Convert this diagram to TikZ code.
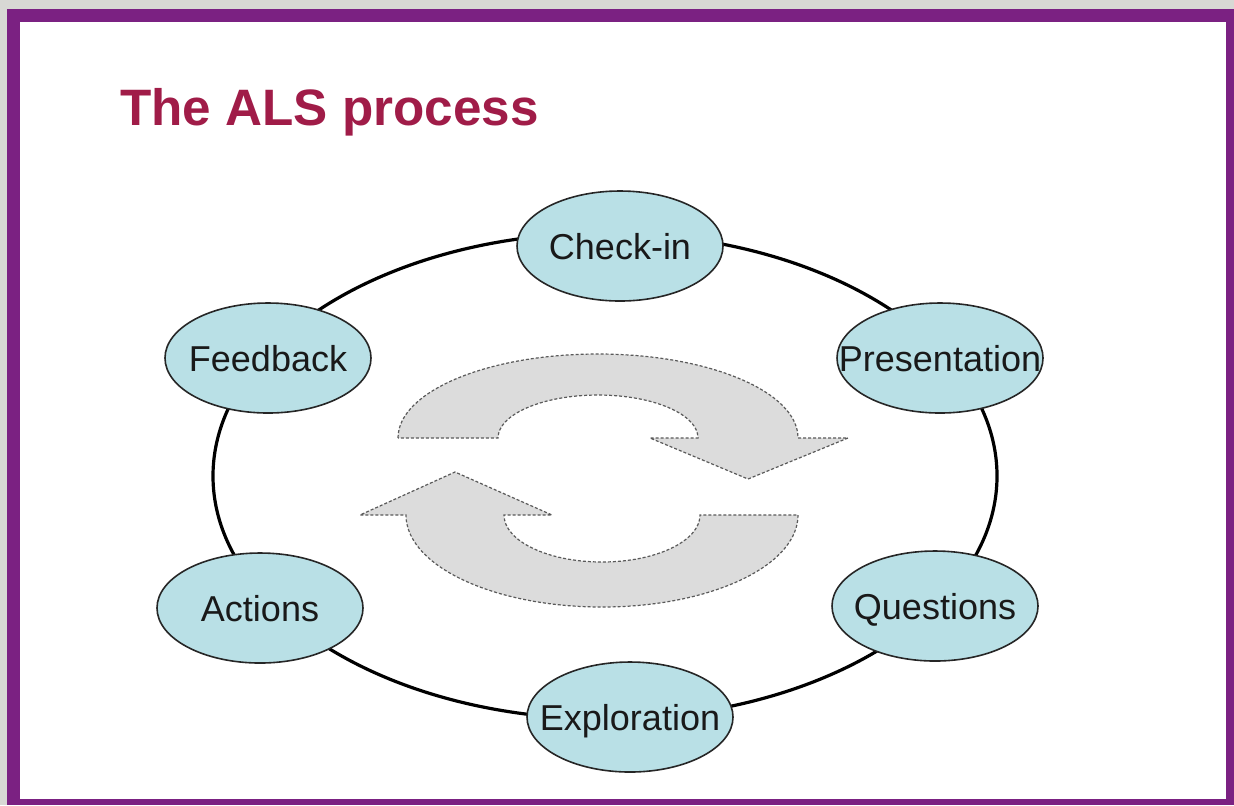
\documentclass[tikz,border=0pt]{standalone}
\usepackage{fontspec}
\setmainfont{Liberation Sans}
\usetikzlibrary{shapes.geometric}
\definecolor{framegray}{RGB}{216,216,212}
\definecolor{framepurple}{RGB}{123,33,130}
\definecolor{titlered}{RGB}{160,28,72}
\definecolor{nodeblue}{RGB}{185,224,230}
\definecolor{arrowgray}{RGB}{220,220,220}
\definecolor{dashgray}{RGB}{90,90,90}
\newcommand{\zw}[1]{\makebox[0pt][c]{#1}}
\tikzset{
  stage/.style={ellipse, draw=black!85, line width=0.8pt, fill=nodeblue,
    minimum width=103pt, minimum height=55pt, inner sep=0pt,
    text height=16pt, text depth=3pt,
    font=\fontsize{18}{20}\selectfont, text=black!90},
  ring/.style={draw=black, line width=1.6pt},
  cyclearrow/.style={fill=arrowgray, draw=dashgray, line width=0.6pt,
    dash pattern=on 1.5pt off 1pt},
  titletext/.style={anchor=base west, inner sep=0pt, text=titlered,
    font=\fontsize{25.6}{28}\selectfont\bfseries}
}
\begin{document}
\begin{tikzpicture}[x=0.5pt,y=-0.5pt]
\useasboundingbox (0,0) rectangle (1234,805);
% frame
\fill[framegray] (0,0) rectangle (1234,805);
\fill[framepurple] (7,9) rectangle (1234,805);
\fill[white] (20,22) rectangle (1226,799);
% title
\node[titletext] (title) at (120,125) {The ALS process};
% ring
\draw[ring] (605,476) ellipse [x radius=196pt, y radius=121.5pt];
% cycle arrows
\path[cyclearrow] (398,438) .. controls (398,391.6) and (487.5,354) .. (598,354)
  .. controls (708.5,354) and (798,391.6) .. (798,438)
  -- (848,438) -- (748,479) -- (650,438) -- (698,438)
  .. controls (698,414.3) and (653.2,395) .. (598,395)
  .. controls (542.8,395) and (498,414.3) .. (498,438) -- cycle;
\path[cyclearrow] (798,515) .. controls (798,565.8) and (710.3,607) .. (602,607)
  .. controls (493.7,607) and (406,565.8) .. (406,515)
  -- (360,515) -- (455,472) -- (552,515) -- (504,515)
  .. controls (504,541) and (547.9,562) .. (602,562)
  .. controls (656.1,562) and (700,541) .. (700,515) -- cycle;
% stages
\node[stage] (checkin) at (620,246) {\zw{Check-in}};
\node[stage] (presentation) at (940,358) {\zw{Presentation}};
\node[stage] (questions) at (935,606) {\zw{Questions}};
\node[stage] (exploration) at (630,717) {\zw{Exploration}};
\node[stage] (actions) at (260,608) {\zw{Actions}};
\node[stage] (feedback) at (268,358) {\zw{Feedback}};
\end{tikzpicture}
\end{document}
